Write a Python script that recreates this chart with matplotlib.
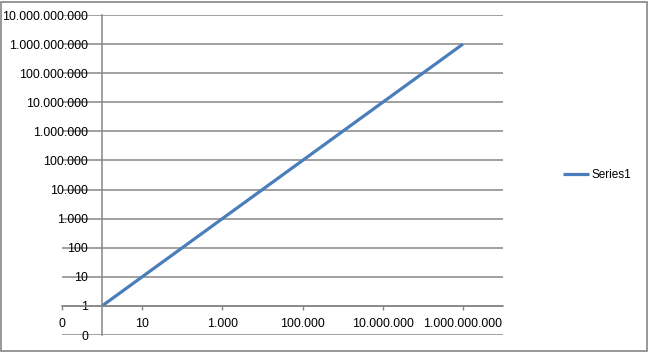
import matplotlib
matplotlib.use("Agg")
import matplotlib.pyplot as plt
from matplotlib.ticker import FixedLocator, FuncFormatter, NullLocator
from matplotlib.patches import Rectangle

# data (y = x, on log axes)
x_values = [1, 10, 100, 1000, 10000, 100000, 1000000, 10000000, 100000000, 1000000000]
y_values = [1, 10, 100, 1000, 10000, 100000, 1000000, 10000000, 100000000, 1000000000]
series_name = "Series1"

x_ticks = [0.1, 10, 1e3, 1e5, 1e7, 1e9]
y_ticks = [0.1, 1, 10, 1e2, 1e3, 1e4, 1e5, 1e6, 1e7, 1e8, 1e9, 1e10]

W, H = 649, 352
GRID = "#868686"
LINE = "#4A7EBB"


def excel_fmt(v, pos=None):
    return f"{v:,.0f}".replace(",", ".")


plt.rcParams['font.family'] = ['Liberation Sans', 'DejaVu Sans']

fig = plt.figure(figsize=(W / 100, H / 100), dpi=100)
ax = fig.add_axes([62 / W, 17 / H, 441 / W, 320 / H])

ax.plot(x_values, y_values, color=LINE, lw=2.3, label=series_name,
        solid_capstyle='butt')

ax.set_xscale('log')
ax.set_yscale('log')
ax.set_xlim(0.1, 1e10)
ax.set_ylim(0.1, 1e10)

ax.xaxis.set_major_locator(FixedLocator(x_ticks))
ax.yaxis.set_major_locator(FixedLocator(y_ticks))
ax.xaxis.set_minor_locator(NullLocator())
ax.yaxis.set_minor_locator(NullLocator())
ax.xaxis.set_major_formatter(FuncFormatter(excel_fmt))
ax.yaxis.set_major_formatter(FuncFormatter(excel_fmt))

for s in ['top', 'right']:
    ax.spines[s].set_visible(False)
ax.spines['bottom'].set_position(('data', 1))
ax.spines['left'].set_position(('data', 1))
ax.spines['bottom'].set_color(GRID)
ax.spines['left'].set_color(GRID)
ax.spines['bottom'].set_linewidth(1.1)
ax.spines['left'].set_linewidth(1.1)

ax.yaxis.grid(True, color=GRID, lw=1.1)
ax.set_axisbelow(True)

ax.tick_params(axis='x', direction='out', length=3, width=1, color=GRID,
               pad=6, labelsize=8.9, labelcolor='black')
ax.tick_params(axis='y', length=0, pad=10, labelsize=8.9, labelcolor='black')

ax.legend(loc='center left', bbox_to_anchor=(563 / W, 1 - 175 / H),
          bbox_transform=fig.transFigure, frameon=False, fontsize=8.5,
          handlelength=2.2, handletextpad=0.25, borderaxespad=0, borderpad=0)

fig.add_artist(Rectangle((1 / W, 1.5 / H), 646 / W, 348.5 / H,
                         transform=fig.transFigure, fill=False,
                         edgecolor=GRID, lw=1.2))

fig.savefig("out.png", dpi=100)
